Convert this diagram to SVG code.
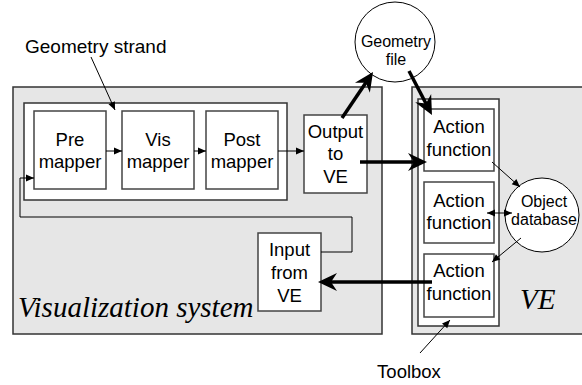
<svg xmlns="http://www.w3.org/2000/svg" width="582" height="385" viewBox="0 0 582 385">
<style>
  .bg{fill:#e6e6e6;stroke:#333;stroke-width:1.5}
  .frame{fill:#fff;stroke:#333;stroke-width:1.5}
  .box{fill:#fff;stroke:#444;stroke-width:1.5}
  .circ{fill:#fff;stroke:#000;stroke-width:1}
  .t{font-family:"Liberation Sans",Arial,sans-serif;font-size:18.5px;fill:#000;text-anchor:middle}
  .ts{font-family:"Liberation Sans",Arial,sans-serif;font-size:16px;fill:#000;text-anchor:middle}
  .lbl{font-family:"Liberation Sans",Arial,sans-serif;font-size:19px;fill:#000}
  .big{font-family:"Liberation Serif","Times New Roman",serif;font-size:29px;font-style:italic;fill:#000}
  .thin{fill:none;stroke:#000;stroke-width:1;marker-end:url(#ah)}
  .thick{fill:none;stroke:#000;stroke-width:3.5;marker-end:url(#bh)}
</style>
<defs>
  <marker id="ah" markerUnits="userSpaceOnUse" markerWidth="20" markerHeight="20" viewBox="-10 -10 20 20" refX="0" refY="0" orient="auto-start-reverse">
    <path d="M0,0 L-8,-3.5 L-8,3.5 Z" fill="#000"/>
  </marker>
  <marker id="bh" markerUnits="userSpaceOnUse" markerWidth="30" markerHeight="30" viewBox="-15 -15 30 30" refX="0" refY="0" orient="auto">
    <path d="M9,0 L-10,-9 L-4,0 L-10,9 Z" fill="#000"/>
  </marker>
</defs>

<g id="visualization-system">
  <rect class="bg" x="13" y="87" width="369" height="247"/>
  <text class="big" x="18" y="317">Visualization system</text>
</g>
<g id="ve-system">
  <rect class="bg" x="412" y="87" width="180" height="247"/>
  <text class="big" x="520" y="309">VE</text>
</g>
<g id="geometry-strand">
  <rect class="frame" x="24" y="103" width="263" height="97"/>
</g>
<g id="toolbox">
  <rect class="frame" x="418" y="99" width="81" height="227"/>
</g>

<g id="pre-mapper">
  <rect class="box" x="34" y="111" width="72" height="78"/>
  <text class="t" x="70" y="146">Pre</text>
  <text class="t" x="70" y="168">mapper</text>
</g>
<g id="vis-mapper">
  <rect class="box" x="122" y="111" width="72" height="78"/>
  <text class="t" x="158" y="146">Vis</text>
  <text class="t" x="158" y="168">mapper</text>
</g>
<g id="post-mapper">
  <rect class="box" x="206" y="111" width="72" height="78"/>
  <text class="t" x="242" y="146">Post</text>
  <text class="t" x="242" y="168">mapper</text>
</g>
<g id="output-to-ve">
  <rect class="box" x="304" y="115" width="63" height="78"/>
  <text class="t" x="335.5" y="138">Output</text>
  <text class="t" x="335.5" y="160">to</text>
  <text class="t" x="335.5" y="183">VE</text>
</g>
<g id="input-from-ve">
  <rect class="box" x="258" y="233" width="63" height="78"/>
  <text class="t" x="289.5" y="256">Input</text>
  <text class="t" x="289.5" y="279">from</text>
  <text class="t" x="289.5" y="302">VE</text>
</g>
<g id="action-function-1">
  <rect class="box" x="424" y="109" width="70" height="62"/>
  <text class="t" x="459" y="133">Action</text>
  <text class="t" x="459" y="156">function</text>
</g>
<g id="action-function-2">
  <rect class="box" x="424" y="182" width="70" height="61"/>
  <text class="t" x="459" y="207">Action</text>
  <text class="t" x="459" y="229">function</text>
</g>
<g id="action-function-3">
  <rect class="box" x="424" y="254" width="70" height="63"/>
  <text class="t" x="459" y="277">Action</text>
  <text class="t" x="459" y="300">function</text>
</g>
<g id="geometry-file">
  <circle class="circ" cx="395" cy="42" r="40"/>
  <text class="ts" x="396" y="47">Geometry</text>
  <text class="ts" x="396" y="65">file</text>
</g>
<g id="object-database">
  <circle class="circ" cx="542" cy="215" r="37"/>
  <text class="ts" x="544" y="207">Object</text>
  <text class="ts" x="544" y="225">database</text>
</g>
<g id="labels">
  <text class="lbl" x="25" y="53">Geometry strand</text>
  <text class="t" x="409" y="378">Toolbox</text>
</g>

<g id="connectors">
  <line class="thin" x1="106" y1="151" x2="122" y2="151"/>
  <line class="thin" x1="194" y1="151" x2="206" y2="151"/>
  <line class="thin" x1="278" y1="151" x2="304" y2="151"/>
  <polyline class="thin" points="321,252 352,252 352,217 20,217 20,178 34,178"/>
  <line class="thin" x1="492" y1="162" x2="520" y2="187"/>
  <line class="thin" x1="487" y1="213" x2="512" y2="213" style="marker-start:url(#ah)"/>
  <line class="thin" x1="521" y1="238" x2="492" y2="262"/>
  <line class="thin" x1="91" y1="57" x2="115" y2="110"/>
  <line class="thin" x1="420" y1="353" x2="450" y2="320"/>
  <line class="thick" x1="342" y1="118" x2="368" y2="79.5"/>
  <line class="thick" x1="409" y1="71" x2="427.8" y2="107"/>
  <line class="thick" x1="360" y1="162" x2="418" y2="162"/>
  <line class="thick" x1="432" y1="282" x2="327" y2="282"/>
</g>
</svg>
